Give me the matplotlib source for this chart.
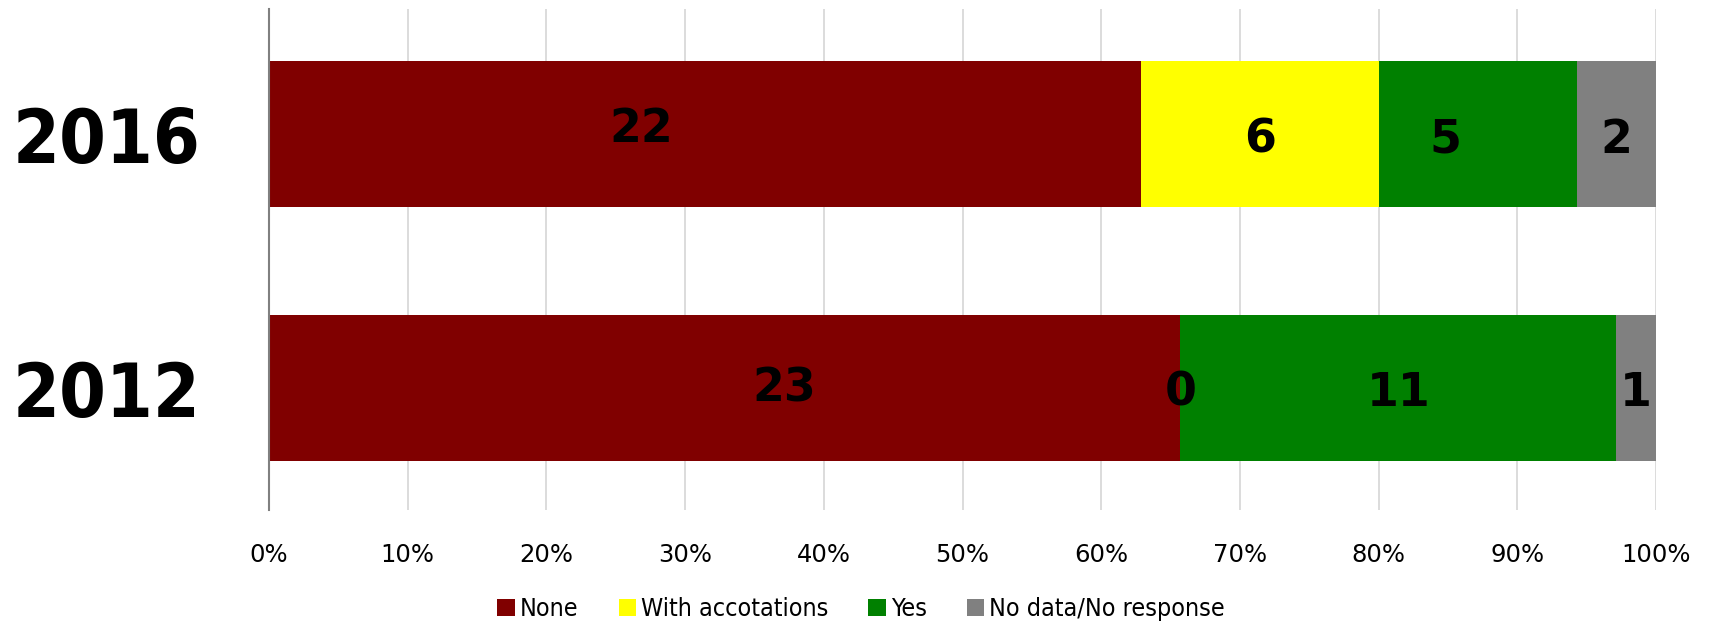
import matplotlib
matplotlib.use("Agg")
import matplotlib.pyplot as plt
from matplotlib.font_manager import fontManager

# Survey responses per year (counts), stacked to 100%
years = ["2012", "2016"]
categories = ["None", "With accotations", "Yes", "No data/No response"]
none_vals = [23, 22]
accot_vals = [0, 6]
yes_vals = [11, 5]
nodata_vals = [1, 2]
tick_labels = [f"{p}%" for p in range(0, 101, 10)]

colors = ["#800000", "#FFFF00", "#008000", "#808080"]

# label nudges (percentage points, bar units) for crowded segments
label_dx = {("2016", 0): -4.6, ("2016", 2): -2.3, ("2012", 0): 4.3}
label_dy = {("2016", 0): 0.016, ("2012", 0): -0.005}
default_dy = {"2016": -0.025, "2012": -0.02}

cond = any("Condensed" in f.fname and "DejaVuSans" in f.fname for f in fontManager.ttflist)
stretch = "condensed" if cond else "normal"

fig = plt.figure(figsize=(17.09, 6.22), dpi=100)
ax = fig.add_axes([0.1574, 0.18, 0.9690 - 0.1574, 0.9855 - 0.18])

series = [none_vals, accot_vals, yes_vals, nodata_vals]
totals = [sum(s[i] for s in series) for i in range(len(years))]
ypos = list(range(len(years)))
left = [0.0] * len(years)
bar_h = 0.575
for k, (vals, col, name) in enumerate(zip(series, colors, categories)):
    widths = [v / t * 100 for v, t in zip(vals, totals)]
    ax.barh(ypos, widths, left=left, height=bar_h, color=col, label=name, zorder=3)
    for i, (w, l, v) in enumerate(zip(widths, left, vals)):
        key = (years[i], k)
        dy = label_dy.get(key, default_dy[years[i]])
        ax.text(l + w / 2 + label_dx.get(key, 0), ypos[i] + dy, str(v),
                ha="center", va="center", fontsize=33, fontweight="bold",
                family="DejaVu Sans", color="black", zorder=4)
    left = [l + w for l, w in zip(left, widths)]

ax.set_xlim(0, 100)
ax.set_ylim(-0.48, 1.492)
ax.set_xticks(range(0, 101, 10))
ax.set_xticklabels(tick_labels, fontsize=17.5, family="DejaVu Sans")
ax.set_yticks(ypos)
ax.set_yticklabels(years, fontsize=54, fontweight="bold", family="DejaVu Sans",
                   stretch=stretch)
ax.tick_params(axis="y", length=0, pad=49)
ax.tick_params(axis="x", length=0, pad=24)
ax.grid(axis="x", color="#d9d9d9", linewidth=1.3, zorder=0)
for s in ["top", "right", "bottom"]:
    ax.spines[s].set_visible(False)
ax.spines["left"].set_color("#808080")
ax.spines["left"].set_linewidth(1.5)
ax.spines["left"].set_zorder(5)

leg = fig.legend(loc="center", bbox_to_anchor=(0.504, 1 - 609 / 622),
                 ncol=4, frameon=False, handlelength=0.7, handleheight=0.7,
                 handletextpad=0.2, columnspacing=1.6,
                 prop={"family": "DejaVu Sans", "size": 18, "stretch": stretch})

fig.savefig("out.png", dpi=100, facecolor="white")
